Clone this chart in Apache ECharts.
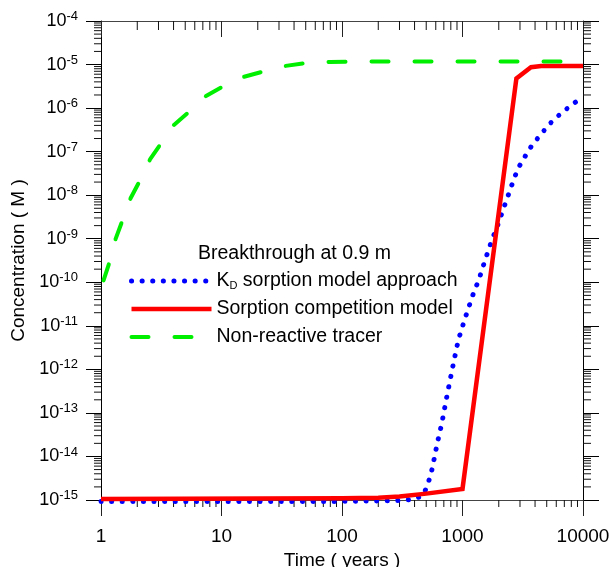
<!DOCTYPE html>
<html>
<head>
<meta charset="utf-8">
<script src="https://cdn.jsdelivr.net/npm/echarts@6/dist/echarts.min.js"></script>
<style>
html, body { margin: 0; padding: 0; background: #fff; }
#chart { width: 612px; height: 567px; }
</style>
</head>
<body>
<div id="chart"></div>
<script>
// K_D sorption model approach (blue dots)
const kdTime = [1, 100, 300, 400, 473, 512, 548, 572, 617, 674, 727, 787, 853, 923, 1050, 1120, 1190, 1370, 1550, 1770, 1920, 2040, 2190, 2350, 2510, 2690, 2900, 3200, 3550, 3990, 4540, 5130, 5970, 7000, 8200, 9550, 10000]
const kdConc = [0.92e-15, 0.93e-15, 0.97e-15, 1.05e-15, 1.3e-15, 2.2e-15, 4e-15, 6.9e-15, 2e-14, 5.8e-14, 1.8e-13, 5.5e-13, 1.66e-12, 4.7e-12, 1.5e-11, 2.5e-11, 4.3e-11, 1.17e-10, 3.4e-10, 1e-9, 1.74e-9, 2.8e-9, 5e-9, 8.5e-9, 1.45e-8, 2.45e-8, 4.2e-8, 6.6e-8, 1.1e-7, 1.7e-7, 2.6e-7, 4e-7, 6e-7, 8.7e-7, 1.23e-6, 1.66e-6, 1.8e-6]
// sorption competition model (red)
const scmTime = [1, 100, 200, 300, 500, 1000, 2800, 3700, 4500, 10000]
const scmConc = [1.06e-15, 1.1e-15, 1.13e-15, 1.2e-15, 1.4e-15, 1.8e-15, 4.8e-6, 8.7e-6, 9.2e-6, 9.3e-6]
// non-reactive tracer (green dashes)
const nrtTime = [1.05, 1.19, 1.32, 1.53, 1.76, 2.08, 2.55, 3.15, 4.03, 5.41, 7.44, 10.2, 15.2, 22.2, 34, 50, 80, 150, 10000]
const nrtConc = [1.1e-10, 3.2e-10, 9.8e-10, 2.95e-9, 8.5e-9, 2.04e-8, 6.6e-8, 1.55e-7, 4.1e-7, 8.3e-7, 1.9e-6, 3.1e-6, 5.2e-6, 6.9e-6, 9.3e-6, 1.08e-5, 1.15e-5, 1.17e-5, 1.17e-5]

const xDecades = [1, 10, 100, 1000]          // minor ticks 2..9 x decade
const yDecades = [-15, -14, -13, -12, -11, -10, -9, -8, -7, -6, -5]
const minorSteps = [2, 3, 4, 5, 6, 7, 8, 9]

const kdName = 'KD sorption model approach'
const scmName = 'Sorption competition model'
const nrtName = 'Non-reactive tracer'
const FONT = '"Liberation Sans", Arial, sans-serif'

const zip = (a, b) => a.map((v, i) => [v, b[i]])

const xMinor = [], yMinor = []
xDecades.forEach(d => minorSteps.forEach(m => xMinor.push(m * d)))
yDecades.forEach(e => minorSteps.forEach(m => yMinor.push(m * Math.pow(10, e))))

// short minor tick drawn at a data point, offset (dx, dy) in pixels
function tick (dx, dy) {
    return function (params, api) {
        const p = api.coord([api.value(0), api.value(1)])
        return {
            type: 'line',
            shape: { x1: p[0], y1: p[1], x2: p[0] + dx, y2: p[1] + dy },
            style: { stroke: '#111', lineWidth: 1 }
        }
    }
}
function tickSeries (data, dx, dy) {
    return { type: 'custom', silent: true, clip: false, z: 1, data: data, renderItem: tick(dx, dy) }
}

const ec = echarts.init(document.getElementById('chart'))
ec.setOption({
    animation: false,
    title: {
        text: 'Breakthrough at 0.9 m', left: 198, top: 244, padding: 0,
        textStyle: { fontFamily: FONT, fontSize: 19.5, fontWeight: 'normal', color: '#000' }
    },
    legend: {
        data: [kdName, scmName, nrtName],
        orient: 'vertical', left: 129, top: 271, padding: 0,
        itemWidth: 80, itemHeight: 14, itemGap: 8,
        selectedMode: false,
        lineStyle: { width: 'inherit' },
        itemStyle: { opacity: 0 },
        formatter: n => n === kdName ? '{a|K}{d|D}{a| sorption model approach}' : '{a|' + n + '}',
        textStyle: {
            fontFamily: FONT, fontSize: 19.5, color: '#000', lineHeight: 20,
            rich: {
                a: { fontFamily: FONT, fontSize: 19.5, color: '#000', lineHeight: 20 },
                d: { fontFamily: FONT, fontSize: 11, color: '#000', lineHeight: 14, verticalAlign: 'bottom' }
            }
        }
    },
    grid: { left: 101, top: 21, width: 482, height: 479, outerBoundsMode: 'none', containLabel: false },
    xAxis: [
        {
            type: 'log', logBase: 10, min: 1, max: 10000, position: 'bottom',
            name: 'Time ( years )', nameLocation: 'middle', nameGap: 48,
            nameTextStyle: { fontFamily: FONT, fontSize: 19, color: '#000' },
            axisLine: { lineStyle: { color: '#444', width: 1 } },
            axisTick: { length: 16, lineStyle: { color: '#222' } },
            axisLabel: {
                fontFamily: FONT, fontSize: 19, color: '#000', margin: 27,
                formatter: v => String(Math.round(v))
            },
            splitLine: { show: false }
        },
        {
            type: 'log', logBase: 10, min: 1, max: 10000, position: 'top',
            axisLine: { lineStyle: { color: '#444', width: 1 } },
            axisTick: { inside: true, length: 16, lineStyle: { color: '#222' } },
            axisLabel: { show: false },
            splitLine: { show: false }
        }
    ],
    yAxis: [
        {
            type: 'log', logBase: 10, min: 1e-15, max: 1e-4, interval: 1, position: 'left',
            name: 'Concentration ( M )', nameLocation: 'middle', nameGap: 58,
            nameTextStyle: { fontFamily: FONT, fontSize: 19, color: '#000' },
            axisLine: { lineStyle: { color: '#000', width: 1 } },
            axisTick: { length: 15, lineStyle: { color: '#000' } },
            axisLabel: {
                margin: 23, showMinLabel: true, showMaxLabel: true,
                formatter: v => '{b|10}{s|' + Math.round(Math.log10(v)) + '}',
                rich: {
                    b: { fontFamily: FONT, fontSize: 18, color: '#000', lineHeight: 22 },
                    s: { fontFamily: FONT, fontSize: 13, color: '#000', lineHeight: 13, verticalAlign: 'top' }
                }
            },
            splitLine: { show: false }
        },
        {
            type: 'log', logBase: 10, min: 1e-15, max: 1e-4, interval: 1, position: 'right',
            axisLine: { lineStyle: { color: '#000', width: 1 } },
            axisTick: { length: 16, lineStyle: { color: '#000' } },
            axisLabel: { show: false },
            splitLine: { show: false }
        }
    ],
    series: [
        tickSeries(yMinor.map(v => [1, v]), -7, 0),
        tickSeries(yMinor.map(v => [10000, v]), 8, 0),
        tickSeries(xMinor.map(v => [v, 1e-15]), 0, 7),
        tickSeries(xMinor.map(v => [v, 1e-4]), 0, 9),
        {
            name: kdName, type: 'line', data: zip(kdTime, kdConc), symbol: 'none', clip: false, z: 3,
            lineStyle: { color: '#0000ff', width: 5, type: [0.1, 10.5], cap: 'round' },
            itemStyle: { color: '#0000ff' }
        },
        {
            name: scmName, type: 'line', data: zip(scmTime, scmConc), symbol: 'none', clip: false, z: 4,
            lineStyle: { color: '#ff0000', width: 4.5, join: 'miter' },
            itemStyle: { color: '#ff0000' }
        },
        {
            name: nrtName, type: 'line', data: zip(nrtTime, nrtConc), symbol: 'none', clip: false, z: 5,
            lineStyle: { color: '#00ee00', width: 4, type: [17, 26], cap: 'round' },
            itemStyle: { color: '#00ee00' }
        }
    ]
})
</script>
</body>
</html>
